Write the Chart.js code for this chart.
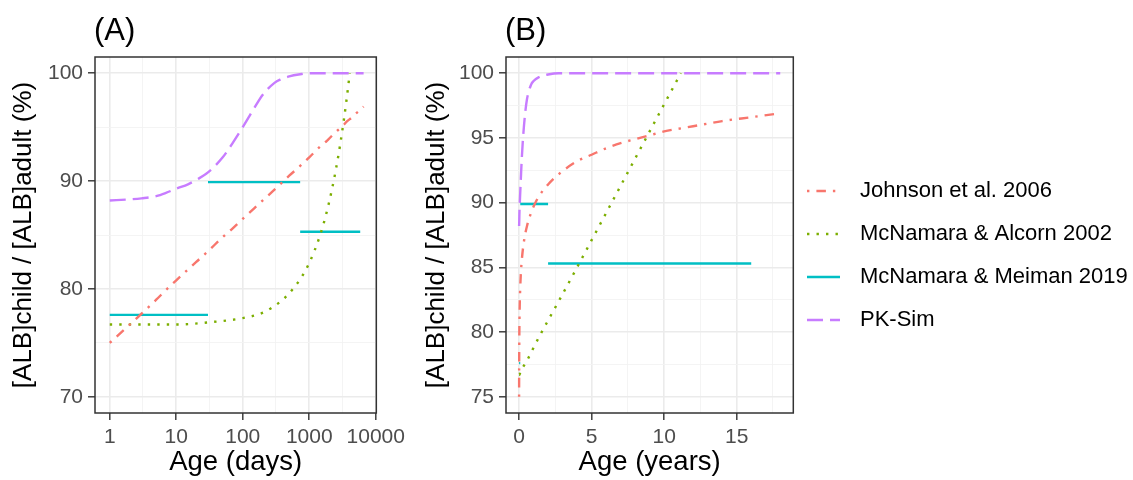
<!DOCTYPE html>
<html>
<head>
<meta charset="utf-8">
<script src="https://cdn.jsdelivr.net/npm/chart.js@4.4.1/dist/chart.umd.min.js"></script>
<style>
  body { margin: 0; background: #fff; }
  #wrap { position: relative; width: 1133px; height: 480px; overflow: hidden; }
  canvas { position: absolute; top: 0; }
</style>
</head>
<body>
<div id="wrap">
  <canvas id="panelA" width="410" height="480" style="left:0px"></canvas>
  <canvas id="panelB" width="733" height="480" style="left:400px"></canvas>
</div>
<script>
// ages are in days; panel B shows the same data in years
const ageDays = [1, 2, 3, 5, 7, 10, 15, 20, 30, 50, 70, 100, 150, 200, 300, 365, 500, 730, 1000, 1460,
  1825, 2190, 2555, 2920, 3285, 3650, 4380, 5110, 5840, 6570];
const johnson2006 = [75.0, 76.7, 77.7, 79.0, 79.9, 80.8, 81.8, 82.5, 83.5, 84.8, 85.6, 86.5, 87.5, 88.2, 89.2, 89.7, 90.5, 91.4, 92.2, 93.2,
  93.7, 94.2, 94.6, 94.9, 95.2, 95.5, 95.9, 96.3, 96.6, 96.9];
const pkSim = [88.2, 88.3, 88.4, 88.6, 88.9, 89.3, 89.7, 90.1, 90.8, 92.2, 93.5, 95.0, 96.8, 98.0, 99.1, 99.4, 99.7, 99.9, 100.0, 100.0,
  100.0, 100.0, 100.0, 100.0, 100.0, 100.0, 100.0, 100.0, 100.0, 100.0];

const alcornDays = [1, 10, 30, 100, 200, 365, 500, 730, 1000, 1460, 1825, 2190, 2555, 2920, 3285, 3650, 4070];
const alcorn2002 = [76.7, 76.7, 76.9, 77.3, 77.8, 78.8, 79.6, 80.9, 82.4, 85.0, 87.1, 89.2, 91.3, 93.4, 95.5, 97.6, 100.0];

// McNamara & Meiman 2019: constant value over each age band
const meimanFrom = [1, 30, 730];
const meimanTo = [30, 730, 5840];
const meiman2019 = [77.6, 89.9, 85.3];

const seriesNames = ['Johnson et al. 2006', 'McNamara & Alcorn 2002', 'McNamara & Meiman 2019', 'PK-Sim'];
const seriesColors = ['#F8766D', '#7CAE00', '#00BFC4', '#C77CFF'];
const seriesDash = [[2.4, 7, 9.5, 7], [2.4, 7.1], [], [16, 7]];

const ticksAx = [1, 10, 100, 1000, 10000];
const minorAx = [3.162, 31.62, 316.2, 3162];
const ticksAy = [70, 80, 90, 100];
const minorAy = [75, 85, 95];
const ticksBx = [0, 5, 10, 15];
const minorBx = [2.5, 7.5, 12.5, 17.5];
const ticksBy = [75, 80, 85, 90, 95, 100];
const minorBy = [77.5, 82.5, 87.5, 92.5, 97.5];

Chart.defaults.font.family = '"Liberation Sans", Arial, sans-serif';
Chart.defaults.color = '#4D4D4D';

function makeDatasets(toX) {
  const pairs = (xs, ys) => xs.map((d, i) => ({ x: toX(d), y: ys[i] }));
  const meiman = [];
  meimanFrom.forEach((d, i) => {
    meiman.push({ x: toX(d), y: meiman2019[i] }, { x: toX(meimanTo[i]), y: meiman2019[i] });
    if (i < meimanFrom.length - 1) meiman.push({ x: toX(meimanTo[i]), y: null });
  });
  const data = [pairs(ageDays, johnson2006), pairs(alcornDays, alcorn2002), meiman, pairs(ageDays, pkSim)];
  return data.map((d, i) => ({
    label: seriesNames[i],
    data: d,
    borderColor: seriesColors[i],
    borderDash: seriesDash[i],
    borderWidth: 2.4,
    borderCapStyle: 'butt',
    pointRadius: 0,
    fill: false,
    spanGaps: false,
    cubicInterpolationMode: i === 2 ? 'default' : 'monotone',
    tension: 0
  }));
}

function setTicks(major, minor) {
  return scale => {
    const all = major.map(v => ({ value: v, major: true }))
      .concat(minor.map(v => ({ value: v, major: false })));
    all.sort((a, b) => a.value - b.value);
    scale.ticks = all;
  };
}

const grid = {
  color: c => (c.tick && c.tick.major ? '#EBEBEB' : '#F3F3F3'),
  lineWidth: c => (c.tick && c.tick.major ? 1.6 : 0.9),
  tickColor: c => (c.tick && c.tick.major ? '#333333' : 'rgba(0,0,0,0)'),
  tickWidth: 1.4,
  tickLength: 7
};

function tickOpts() {
  return {
    autoSkip: false, maxRotation: 0, padding: 5,
    font: { size: 21 }, color: '#4D4D4D',
    callback: (v, i, ticks) => (ticks[i].major ? String(v) : '')
  };
}

const panelDecor = {
  id: 'panelDecor',
  afterDraw(chart, args, opts) {
    const { ctx, chartArea: a } = chart;
    ctx.save();
    ctx.strokeStyle = '#333333';
    ctx.lineWidth = 1.5;
    ctx.setLineDash([]);
    ctx.strokeRect(a.left, a.top, a.right - a.left, a.bottom - a.top);
    ctx.fillStyle = '#000';
    ctx.font = '31px "Liberation Sans", Arial, sans-serif';
    ctx.textBaseline = 'middle';
    ctx.textAlign = 'left';
    ctx.fillText(opts.label, a.left - 1, 31);
    if (opts.legend) {
      const L = opts.legend;
      ctx.font = '22px "Liberation Sans", Arial, sans-serif';
      chart.data.datasets.forEach((ds, i) => {
        const y = L.rows[i];
        ctx.beginPath();
        ctx.strokeStyle = ds.borderColor;
        ctx.lineWidth = ds.borderWidth;
        ctx.lineCap = 'butt';
        ctx.setLineDash(ds.borderDash);
        ctx.moveTo(L.keyFrom, y);
        ctx.lineTo(L.keyTo, y);
        ctx.stroke();
        ctx.setLineDash([]);
        ctx.fillStyle = '#000';
        ctx.fillText(ds.label, L.textX, y);
      });
    }
    ctx.restore();
  }
};

function axisTitle(text, size, pad) {
  return { display: true, text: text, color: '#000', font: { size: size }, padding: pad };
}

new Chart(document.getElementById('panelA'), {
  type: 'line',
  data: { datasets: makeDatasets(d => d) },
  options: {
    responsive: false,
    animation: false,
    layout: { padding: { left: 0, right: 28, top: 57, bottom: 0 } },
    plugins: {
      legend: { display: false },
      tooltip: { enabled: false },
      panelDecor: { label: '(A)' }
    },
    scales: {
      x: {
        type: 'logarithmic', min: 0.644, max: 10200,
        afterFit: s => { s.height = 67; },
        afterBuildTicks: setTicks(ticksAx, minorAx),
        grid: grid, border: { display: false }, ticks: tickOpts(),
        title: axisTitle('Age (days)', 27.5, { top: 0, bottom: 1 })
      },
      y: {
        type: 'linear', min: 68.5, max: 101.5,
        afterFit: s => { s.width = 95; },
        afterBuildTicks: setTicks(ticksAy, minorAy),
        grid: grid, border: { display: false }, ticks: tickOpts(),
        title: axisTitle('[ALB]child / [ALB]adult (%)', 26, { top: 8.6, bottom: 0 })
      }
    }
  },
  plugins: [panelDecor]
});

new Chart(document.getElementById('panelB'), {
  type: 'line',
  data: { datasets: makeDatasets(d => d / 365) },
  options: {
    responsive: false,
    animation: false,
    layout: { padding: { left: 0, right: 339.7, top: 57, bottom: 0 } },
    plugins: {
      legend: { display: false },
      tooltip: { enabled: false },
      panelDecor: {
        label: '(B)',
        legend: { keyFrom: 407, keyTo: 440, textX: 460, rows: [191, 234, 277, 320] }
      }
    },
    scales: {
      x: {
        type: 'linear', min: -0.9, max: 18.9,
        afterFit: s => { s.height = 67; },
        afterBuildTicks: setTicks(ticksBx, minorBx),
        grid: grid, border: { display: false }, ticks: tickOpts(),
        title: axisTitle('Age (years)', 27.5, { top: 0, bottom: 1 })
      },
      y: {
        type: 'linear', min: 73.75, max: 101.25,
        afterFit: s => { s.width = 106; },
        afterBuildTicks: setTicks(ticksBy, minorBy),
        grid: grid, border: { display: false }, ticks: tickOpts(),
        title: axisTitle('[ALB]child / [ALB]adult (%)', 26, { top: 21.4, bottom: 0 })
      }
    }
  },
  plugins: [panelDecor]
});
</script>
</body>
</html>
